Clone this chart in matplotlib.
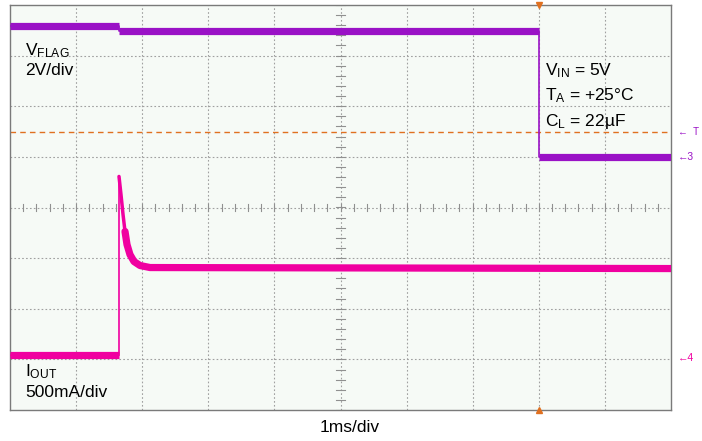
import matplotlib
matplotlib.use("Agg")
import matplotlib.pyplot as plt
import numpy as np

plt.rcParams['font.family'] = ['Liberation Sans', 'DejaVu Sans']
plt.rcParams['mathtext.fontset'] = 'custom'
plt.rcParams['mathtext.rm'] = 'Liberation Sans'
plt.rcParams['mathtext.it'] = 'Liberation Sans'

# Data (in screen divisions: x 0..10 at 1 ms/div, y -4..4)
vflag_t = [0.0, 1.65, 1.65, 8.0, 8.0, 10.0]
vflag_y = [3.58, 3.58, 3.49, 3.49, 0.99, 0.99]

iout_t = [0.0, 1.649, 1.649, 1.679, 1.710, 1.740, 1.770, 1.815, 1.876, 1.967, 2.118, 10.0]
iout_y = [-2.92, -2.92, 0.613, 0.257, -0.138, -0.474, -0.731, -0.929, -1.067, -1.146, -1.186, -1.206]

trigger_t = 8.0
trigger_level = 1.5
ch3_ground = 0.99
ch4_ground = -2.98

PURPLE = '#9a12c6'
PINK = '#f000a0'
ORANGE = '#e07020'

fig = plt.figure(figsize=(7.02, 4.41), dpi=100)
ax = fig.add_axes([10/702, 1-410/441, 661/702, 405/441])
ax.set_facecolor('#f6faf6')
ax.set_xlim(0, 10)
ax.set_ylim(-4, 4)
ax.set_xticks([]); ax.set_yticks([])
for s in ax.spines.values():
    s.set_color('#7a7a7a'); s.set_linewidth(1.0)

# grid
for gx in range(1, 10):
    ax.axvline(gx, color='#a0a0a0', lw=0.8, ls=(0, (1.5, 2)), zorder=1)
for gy in range(-3, 4):
    ax.axhline(gy, color='#a0a0a0', lw=0.8, ls=(0, (1.5, 2)), zorder=1)
# center minor ticks
for tx in np.arange(0, 10.01, 0.2):
    ax.plot([tx, tx], [-0.06, 0.06], color='#909090', lw=0.8, zorder=1)
for ty in np.arange(-4, 4.01, 0.2):
    ax.plot([4.93, 5.07], [ty, ty], color='#909090', lw=0.8, zorder=1)

# trigger level
ax.axhline(trigger_level, color=ORANGE, lw=1.0, ls=(0, (4, 3)), zorder=2)

# traces: thin edges, thick (noisy) levels
ax.plot(vflag_t, vflag_y, color=PURPLE, lw=1.2, zorder=3)
for a, b in [(0, 2), (2, 4), (4, 6)]:
    ax.plot(vflag_t[a:b], vflag_y[a:b], color=PURPLE, lw=5.2,
            solid_capstyle='butt', zorder=3)
ax.plot(iout_t, iout_y, color=PINK, lw=1.2, zorder=3)
ax.plot(iout_t[0:2], iout_y[0:2], color=PINK, lw=5.2, solid_capstyle='butt', zorder=3)
ax.plot(iout_t[2:6], iout_y[2:6], color=PINK, lw=2.5, solid_capstyle='round', zorder=3)
ax.plot(iout_t[5:], iout_y[5:], color=PINK, lw=5.2, solid_capstyle='round',
        solid_joinstyle='round', zorder=3)

# trigger position markers
ax.plot([trigger_t], [4.0], marker='v', color=ORANGE, ms=5, clip_on=False, zorder=5)
ax.plot([trigger_t], [-4.0], marker='^', color=ORANGE, ms=5, clip_on=False, zorder=5)

# labels
fs = 12.5
ax.text(0.23, 3.1, r'V$_{\mathrm{FLAG}}$', fontsize=fs, va='center', ha='left')
ax.text(0.23, 2.7, '2V/div', fontsize=fs, va='center', ha='left')
ax.text(0.23, -3.25, r'I$_{\mathrm{OUT}}$', fontsize=fs, va='center', ha='left')
ax.text(0.23, -3.65, '500mA/div', fontsize=fs, va='center', ha='left')
ax.text(8.1, 2.7, r'V$_{\mathrm{IN}}$ = 5V', fontsize=fs, va='center', ha='left')
ax.text(8.1, 2.2, r'T$_{\mathrm{A}}$ = +25$\degree$C', fontsize=fs, va='center', ha='left')
ax.text(8.1, 1.7, r'C$_{\mathrm{L}}$ = 22µF', fontsize=fs, va='center', ha='left')

# right side channel markers
ax.annotate('←  T', xy=(1.01, trigger_level), xycoords=('axes fraction', 'data'),
            fontsize=7, color=PURPLE, va='center', ha='left', annotation_clip=False)
ax.annotate('←3', xy=(1.01, ch3_ground), xycoords=('axes fraction', 'data'),
            fontsize=7.5, color=PURPLE, va='center', ha='left', annotation_clip=False)
ax.annotate('←4', xy=(1.01, ch4_ground), xycoords=('axes fraction', 'data'),
            fontsize=7.5, color=PINK, va='center', ha='left', annotation_clip=False)

fig.text(350/702, 1-428/441, '1ms/div', fontsize=fs, ha='center', va='center')

fig.savefig('out.png', dpi=100)
